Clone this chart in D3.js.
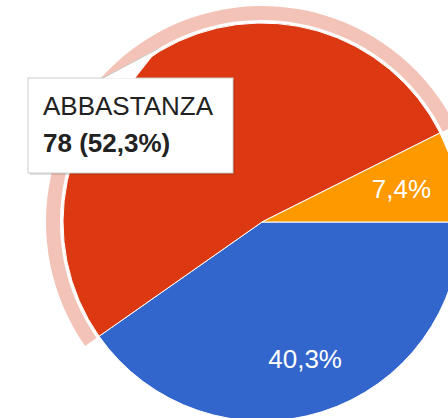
<!DOCTYPE html>
<html lang="it">
<head>
  <meta charset="UTF-8">
  <title>Torta</title>
  <script src="https://d3js.org/d3.v7.min.js"></script>
  <style>
    body { margin: 0; overflow: hidden; background: #fff; font-family: Arial, "Liberation Sans", sans-serif; }
  </style>
</head>
<body>
  <div id="chart"></div>
  <script>
    // dati (risposte)
    const categorie = ["MOLTO", "ABBASTANZA", "POCO"];
    const valori = [60, 78, 11];
    const colori = ["#3366cc", "#dc3912", "#ff9900"];
    const evidenziata = 1; // fetta con tooltip

    const W = 448, H = 418;
    const cx = 262, cy = 222, r = 199;

    const svg = d3.select("#chart").append("svg")
      .attr("width", W).attr("height", H);

    const totale = d3.sum(valori);
    const fmt = v => (v / totale * 100).toFixed(1).replace(".", ",") + "%";

    const pie = d3.pie().sort(null).value(d => d)
      .startAngle(Math.PI / 2).endAngle(Math.PI / 2 + 2 * Math.PI);
    const archi = pie(valori);

    const g = svg.append("g").attr("transform", `translate(${cx},${cy})`);

    const arc = d3.arc().innerRadius(0).outerRadius(r);
    g.selectAll("path.fetta")
      .data(archi)
      .enter().append("path")
      .attr("class", "fetta")
      .attr("d", arc)
      .attr("fill", (d, i) => colori[i])
      .attr("stroke", "#fff")
      .attr("stroke-width", 1);

    // anello di evidenziazione
    const ring = d3.arc().innerRadius(r + 3).outerRadius(r + 17);
    g.append("path")
      .datum(archi[evidenziata])
      .attr("d", ring)
      .attr("fill", colori[evidenziata])
      .attr("fill-opacity", 0.3);

    // etichette percentuali
    const lab = d3.arc().innerRadius(r * 0.72).outerRadius(r * 0.72);
    g.selectAll("text.pct")
      .data(archi.filter((d, i) => i !== evidenziata))
      .enter().append("text")
      .attr("class", "pct")
      .attr("transform", d => `translate(${lab.centroid(d)})`)
      .attr("text-anchor", "middle")
      .attr("dy", "0.35em")
      .attr("fill", "#fff")
      .style("font-size", "26px")
      .text(d => fmt(d.value));

    // tooltip
    const a = archi[evidenziata];
    const mid = (a.startAngle + a.endAngle) / 2;
    const tip = [cx + Math.sin(mid) * (r + 3), cy - Math.cos(mid) * (r + 3)];
    const box = { x: 28, y: 78, w: 205, h: 95 };

    const tt = svg.append("g");
    tt.append("rect")
      .attr("x", box.x + 2).attr("y", box.y + 2)
      .attr("width", box.w).attr("height", box.h)
      .attr("fill", "#000").attr("fill-opacity", 0.12);
    tt.append("rect")
      .attr("x", box.x).attr("y", box.y)
      .attr("width", box.w).attr("height", box.h)
      .attr("fill", "#fff").attr("stroke", "#cccccc").attr("stroke-width", 1);
    tt.append("path")
      .attr("d", `M${box.x + 75},${box.y + 0.5}L${tip[0]},${tip[1]}L${box.x + 107},${box.y + 0.5}Z`)
      .attr("fill", "#fff");
    tt.append("path")
      .attr("d", `M${box.x + 75},${box.y}L${tip[0]},${tip[1]}`)
      .attr("stroke", "#cccccc").attr("fill", "none");

    tt.append("text")
      .attr("x", box.x + 15).attr("y", box.y + 37)
      .attr("fill", "#222")
      .style("font-size", "26px")
      .text(categorie[evidenziata]);
    tt.append("text")
      .attr("x", box.x + 15).attr("y", box.y + 74)
      .attr("fill", "#222")
      .style("font-size", "26px")
      .style("font-weight", "bold")
      .text(`${valori[evidenziata]} (${fmt(valori[evidenziata])})`);
  </script>
</body>
</html>
